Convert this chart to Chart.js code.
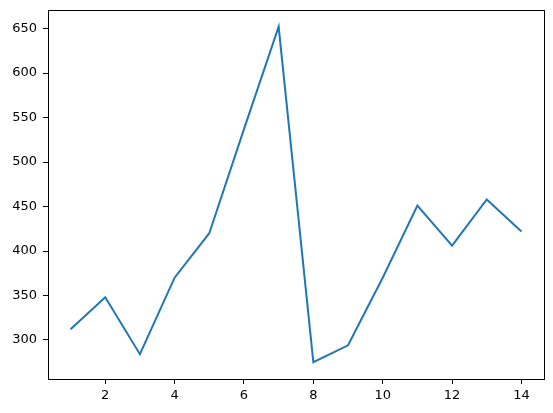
<!DOCTYPE html>
<html>
<head>
<meta charset="utf-8">
<script src="https://cdn.jsdelivr.net/npm/chart.js@4"></script>
<style>
  html, body { margin: 0; padding: 0; background: #fff; }
  canvas { display: block; }
</style>
</head>
<body>
<canvas id="chart" width="553" height="413"></canvas>
<script>
const xValues = [1, 2, 3, 4, 5, 6, 7, 8, 9, 10, 11, 12, 13, 14];
const yValues = [312, 348, 284, 370, 420, 537, 652, 275, 294, 370, 451, 406, 458, 422];
const xTicks = [2, 4, 6, 8, 10, 12, 14];
const yTicks = [300, 350, 400, 450, 500, 550, 600, 650];

// matplotlib-style 5% margins around the data
const xPad = (14 - 1) * 0.05;
const yPad = (652 - 275) * 0.05;

const frame = {
  id: "frame",
  afterDraw(chart) {
    const { ctx, chartArea: a } = chart;
    ctx.save();
    ctx.strokeStyle = "#000";
    ctx.lineWidth = 1;
    ctx.strokeRect(Math.round(a.left) + 0.5, Math.round(a.top) + 0.5,
      Math.round(a.right - a.left), Math.round(a.bottom - a.top));
    ctx.restore();
  }
};

const font = { family: "'DejaVu Sans', sans-serif", size: 13 };

new Chart(document.getElementById("chart"), {
  type: "line",
  data: {
    datasets: [
      {
        data: xValues.map((x, i) => ({ x: x, y: yValues[i] })),
        borderColor: "#1f77b4",
        borderWidth: 2,
        pointRadius: 0,
        tension: 0,
        fill: false,
      },
    ],
  },
  options: {
    responsive: false,
    animation: false,
    devicePixelRatio: 1,
    layout: { padding: { top: 10, right: 9, left: 0, bottom: 0 } },
    plugins: { legend: { display: false }, tooltip: { enabled: false } },
    scales: {
      x: {
        type: "linear",
        min: 1 - xPad,
        max: 14 + xPad,
        afterBuildTicks: (s) => { s.ticks = xTicks.map((v) => ({ value: v })); },
        afterFit: (s) => {
          s.height = 34;
          s.paddingLeft = 0;
          s.paddingRight = 0;
        },
        grid: { drawOnChartArea: false, drawTicks: true, tickLength: 5, tickColor: "#000" },
        border: { display: false },
        ticks: { color: "#000", font: font, padding: 4, maxRotation: 0 },
      },
      y: {
        type: "linear",
        min: 275 - yPad,
        max: 652 + yPad,
        afterBuildTicks: (s) => { s.ticks = yTicks.map((v) => ({ value: v })); },
        afterFit: (s) => {
          s.width = 48;
          s.paddingTop = 0;
          s.paddingBottom = 0;
        },
        grid: { drawOnChartArea: false, drawTicks: true, tickLength: 5, tickColor: "#000" },
        border: { display: false },
        ticks: { color: "#000", font: font, padding: 6 },
      },
    },
  },
  plugins: [frame],
});
</script>
</body>
</html>
